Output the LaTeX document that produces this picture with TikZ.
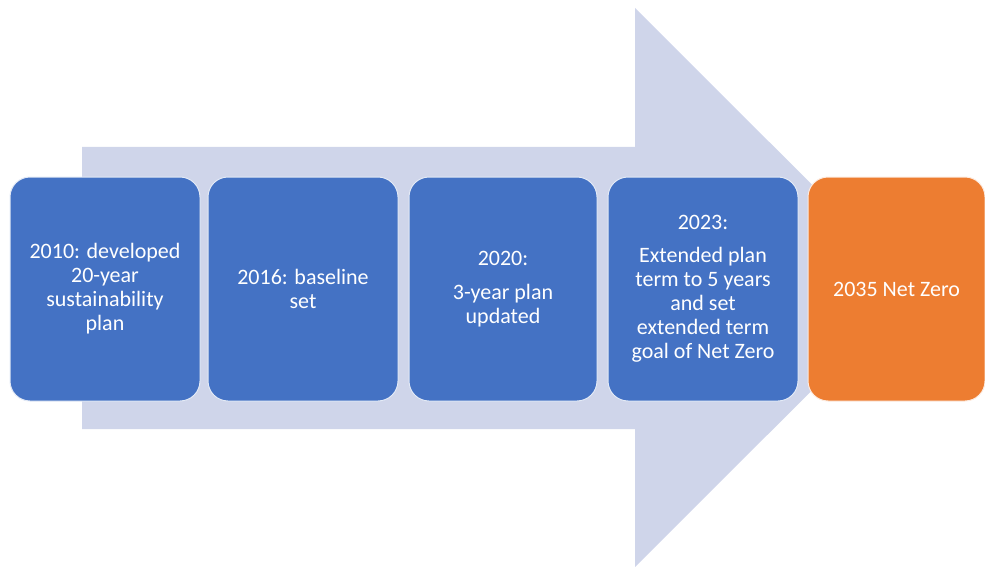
\documentclass[tikz,border=0pt]{standalone}
\usepackage{fontspec}
\setmainfont{Carlito}
\definecolor{arrowfill}{HTML}{CFD5EA}
\definecolor{stageblue}{HTML}{4472C4}
\definecolor{goalorange}{HTML}{ED7D31}
\tikzset{
  stagebox/.style={fill=stageblue, draw=white!85!stageblue, line width=1pt,
    rounded corners=20pt, minimum width=190pt, minimum height=224pt,
    text=white, align=center, font=\fontsize{22}{24}\selectfont, inner sep=0pt},
  goalbox/.style={stagebox, fill=goalorange, draw=white!85!goalorange}
}
\begin{document}
\begin{tikzpicture}[x=1pt,y=-1pt]
\useasboundingbox (0,0) rectangle (985,567);
% big background arrow
\fill[arrowfill] (82,147) -- (635,147) -- (635,8) -- (915,287.5) -- (635,567)
  -- (635,429) -- (82,429) -- cycle;
% stages
\node[stagebox] (s1) at (105,289) {2010: developed\\20-year\\sustainability\\plan};
\node[stagebox] (s2) at (303,289) {2016: baseline\\set};
\node[stagebox, minimum width=188pt] (s3) at (503,289) {2020:\\[10pt]3-year plan\\updated};
\node[stagebox] (s4) at (703,289) {2023:\\[9pt]Extended plan\\term to 5 years\\and set\\extended term\\goal of Net Zero};
\node[goalbox, minimum width=177pt] (s5) at (896.5,289) {2035 Net Zero};
\end{tikzpicture}
\end{document}
